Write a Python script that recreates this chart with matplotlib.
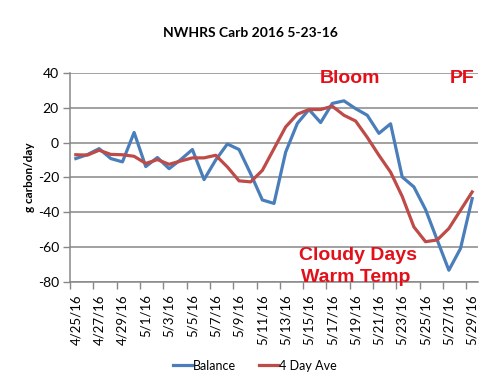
import matplotlib
matplotlib.use("Agg")
import matplotlib.pyplot as plt
import numpy as np

dates = ["4/25/16","4/26/16","4/27/16","4/28/16","4/29/16","4/30/16","5/1/16","5/2/16","5/3/16","5/4/16",
         "5/5/16","5/6/16","5/7/16","5/8/16","5/9/16","5/10/16","5/11/16","5/12/16","5/13/16","5/14/16",
         "5/15/16","5/16/16","5/17/16","5/18/16","5/19/16","5/20/16","5/21/16","5/22/16","5/23/16","5/24/16",
         "5/25/16","5/26/16","5/27/16","5/28/16","5/29/16"]
balance = [-9.2, -6.9, -3.5, -9.2, -11.1, 5.8, -13.8, -8.6, -15.0, -9.8,
           -4.0, -21.3, -10.0, -0.8, -4.0, -18.0, -33.0, -35.0, -5.5, 11.0,
           19.0, 11.5, 22.5, 24.0, 19.5, 15.7, 5.3, 10.8, -19.8, -25.5,
           -38.5, -56.0, -73.4, -60.9, -32.2]
ave4 = [-7.0, -7.2, -4.4, -6.8, -7.0, -7.9, -12.0, -9.8, -12.5, -10.6,
        -8.8, -8.8, -7.3, -14.0, -22.0, -22.6, -16.0, -3.5, 9.0, 16.3,
        19.0, 19.0, 20.9, 15.7, 12.4, 3.0, -7.3, -17.0, -31.0, -48.5,
        -57.0, -56.0, -49.4, -38.9, -28.4]
yticks = [40, 20, 0, -20, -40, -60, -80]

blue = "#4A7EBB"
red = "#BE4B48"
grid = "#878787"
fam = "Lato"

fig = plt.figure(figsize=(5, 3.85), dpi=100)
ax = fig.add_axes([0.14, 0.2683, 0.816, 0.5421])
x = np.arange(len(dates))
ax.plot(x, balance, color=blue, lw=2.3, label="Balance", solid_joinstyle="round")
ax.plot(x, ave4, color=red, lw=2.3, label="4 Day Ave", solid_joinstyle="round")

ax.set_xlim(-0.5, len(dates) - 0.5)
ax.set_ylim(-80, 40)
ax.set_yticks(yticks)
ax.set_yticklabels([str(v) for v in yticks], fontsize=10, family=fam)
ax.yaxis.grid(True, color=grid, lw=1.1)
ax.set_axisbelow(True)
ax.tick_params(axis="y", length=5, color=grid, width=1, pad=3)

ax.set_xticks(x[::2])
ax.set_xticklabels(dates[::2], rotation=90, fontsize=9.5, family=fam)
ax.set_xticks(np.arange(-0.5, len(dates), 2), minor=True)
ax.tick_params(axis="x", which="major", length=0, pad=9)
ax.tick_params(axis="x", which="minor", length=5, color=grid, width=1)

for s in ["top", "right"]:
    ax.spines[s].set_visible(False)
for s in ["left", "bottom"]:
    ax.spines[s].set_color(grid)
    ax.spines[s].set_linewidth(1.1)

ax.set_ylabel("g carbon/day", fontsize=8.5, fontweight="bold", family=fam, labelpad=2)

ann = dict(color="#E3101A", fontsize=14, fontweight="bold", family="Liberation Sans", ha="center", va="center")
ax.text(23.5, 37, "Bloom", **ann)
ax.text(33.1, 37, "PF", **ann)
ax.text(24.2, -64.8, "Cloudy Days", **ann)
ax.text(24.0, -77.4, "Warm Temp", **ann)

fig.suptitle("NWHRS Carb 2016 5-23-16", x=0.5, y=0.93, fontsize=10, fontweight="bold", family=fam)

fig.legend(loc="center", bbox_to_anchor=(0.51, 0.05), ncol=2, frameon=False,
           prop={"family": fam, "size": 9}, handlelength=1.5, handletextpad=0.1, columnspacing=1.8)

fig.savefig("out.png", dpi=100)
